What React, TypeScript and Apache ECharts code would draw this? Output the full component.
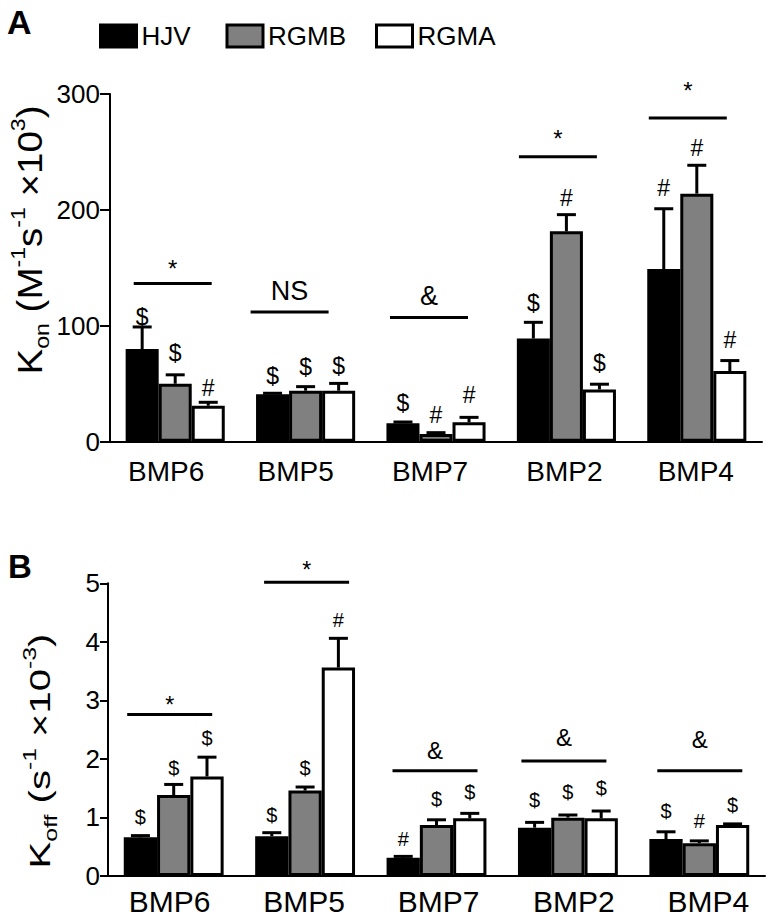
import React, { useEffect, useRef } from 'react';
import * as echarts from 'echarts';

// ---------- data ----------
const categories = ['BMP6', 'BMP5', 'BMP7', 'BMP2', 'BMP4'];
const seriesNames = ['HJV', 'RGMB', 'RGMA'];

// Panel A: Kon (M^-1 s^-1 x10^3)
const konHJV = [80, 41, 16, 89, 149];
const konRGMB = [50, 44, 6.6, 181.5, 214];
const konRGMA = [31, 44, 16.7, 45, 61];
const konErrHJV = [19, 0.8, 1, 14, 52];
const konErrRGMB = [7.7, 3.5, 1.2, 14.4, 24.5];
const konErrRGMA = [3, 6.3, 4.3, 4.6, 9];
const konMarkHJV = ['$', '$', '$', '$', '#'];
const konMarkRGMB = ['$', '$', '#', '#', '#'];
const konMarkRGMA = ['#', '$', '#', '$', '#'];
const konMarkLevelHJV = [108, 56.8, 33.2, 119.6, 219];
const konMarkLevelRGMB = [76.4, 64.8, 23, 210.4, 253.6];
const konMarkLevelRGMA = [46, 65.4, 40.4, 67.8, 87.9];
const konSigLabels = ['*', 'NS', '&', '*', '*'];
const konSigLevel = [136.6, 111.8, 107.2, 245.8, 279.2];
const konSigLabelLevel = [154, 129.6, 125.3, 266.5, 307.4];
const konTicks = { min: 0, max: 300, interval: 100 };

// Panel B: Koff (s^-1 x10^-3)
const koffHJV = [0.66, 0.68, 0.31, 0.826, 0.63];
const koffRGMB = [1.384, 1.46, 0.87, 0.997, 0.56];
const koffRGMA = [1.7, 3.56, 0.985, 0.985, 0.87];
const koffErrHJV = [0.03, 0.06, 0.025, 0.09, 0.125];
const koffErrRGMB = [0.18, 0.06, 0.09, 0.045, 0.04];
const koffErrRGMA = [0.33, 0.5, 0.085, 0.125, 0.02];
const koffMarkHJV = ['$', '$', '#', '$', '$'];
const koffMarkRGMB = ['$', '$', '$', '$', '#'];
const koffMarkRGMA = ['$', '#', '$', '$', '$'];
const koffMarkLevelHJV = [1.01, 1.04, 0.63, 1.29, 1.11];
const koffMarkLevelRGMB = [1.84, 1.84, 1.31, 1.44, 0.945];
const koffMarkLevelRGMA = [2.35, 4.37, 1.43, 1.5, 1.21];
const koffSigLabels = ['*', '*', '&', '&', '&'];
const koffSigLevel = [2.76, 5.02, 1.8, 1.966, 1.8];
const koffSigLabelLevel = [3.01, 5.32, 2.14, 2.36, 2.34];
const koffTicks = { min: 0, max: 5, interval: 1 };

// ---------- style ----------
const FONT = 'Liberation Sans, Arial, sans-serif';
const COLORS = ['#000000', '#808080', '#ffffff'];
const CAT_GAP = 0.24;
const A_LABEL_DX = [-9, -10, -6, -2, -1];
const B_LABEL_DX = [-4, -1, 2, 6, 9];
const A_SIG_DX = [-2.5, -16, -7, -8.5, -9];
const B_SIG_DX = [-4, 1.5, -1.5, -4, 0.5];

function labelRich(dx: number[], fontSize: number) {
  const rich: any = {};
  dx.forEach((d, i) => {
    rich['l' + i] = {
      fontSize,
      fontFamily: FONT,
      color: '#000',
      padding: d >= 0 ? [0, 0, 0, 2 * d] : [0, -2 * d, 0, 0],
    };
  });
  return rich;
}

function errSeries(
  gi: number,
  member: number,
  means: number[],
  errs: number[],
  marks: string[],
  levels: number[],
  fs: number
) {
  return {
    type: 'custom',
    xAxisIndex: gi,
    yAxisIndex: gi,
    z: 5,
    silent: true,
    clip: false,
    data: means.map((v, i) => [i, v, v + errs[i], levels[i]]),
    renderItem: (params: any, api: any) => {
      const i = api.value(0);
      const band = api.size([1, 0])[0];
      const bw = (band * (1 - CAT_GAP)) / 3;
      const cx = api.coord([i, 0])[0] + (member - 1) * bw;
      const yTop = api.coord([i, api.value(1)])[1];
      const yErr = api.coord([i, api.value(2)])[1];
      const yMark = api.coord([i, api.value(3)])[1];
      const capHalf = 9.5;
      return {
        type: 'group',
        children: [
          {
            type: 'line',
            shape: { x1: cx, y1: yTop, x2: cx, y2: yErr },
            style: { stroke: '#000', lineWidth: 3 },
          },
          {
            type: 'line',
            shape: { x1: cx - capHalf, y1: yErr, x2: cx + capHalf, y2: yErr },
            style: { stroke: '#000', lineWidth: 3 },
          },
          {
            type: 'text',
            x: cx,
            y: yMark,
            style: {
              text: marks[i],
              align: 'center',
              verticalAlign: 'middle',
              fontSize: fs,
              fontFamily: FONT,
              fill: '#000',
            },
          },
        ],
      };
    },
  };
}

function sigSeries(
  gi: number,
  labels: string[],
  levels: number[],
  labelLevels: number[],
  dxs: number[],
  halfW: number,
  fsStar: number,
  fsText: number
) {
  return {
    type: 'custom',
    xAxisIndex: gi,
    yAxisIndex: gi,
    z: 5,
    silent: true,
    clip: false,
    data: levels.map((v, i) => [i, v, labelLevels[i]]),
    renderItem: (params: any, api: any) => {
      const i = api.value(0);
      const cx = api.coord([i, 0])[0] + dxs[i];
      const y = api.coord([i, api.value(1)])[1];
      let yt = api.coord([i, api.value(2)])[1];
      const lab = labels[i];
      const fs = lab === '*' ? fsStar : fsText;
      if (lab === '*') yt += fs * 0.22;
      return {
        type: 'group',
        children: [
          {
            type: 'line',
            shape: { x1: cx - halfW, y1: y, x2: cx + halfW, y2: y },
            style: { stroke: '#000', lineWidth: 3 },
          },
          {
            type: 'text',
            x: cx,
            y: yt,
            style: {
              text: lab,
              align: 'center',
              verticalAlign: 'middle',
              fontSize: fs,
              fontFamily: FONT,
              fill: '#000',
            },
          },
        ],
      };
    },
  };
}

function barSeries(gi: number, member: number, data: number[]) {
  return {
    type: 'bar',
    name: seriesNames[member],
    xAxisIndex: gi,
    yAxisIndex: gi,
    data,
    barGap: '0%',
    barCategoryGap: CAT_GAP * 100 + '%',
    silent: true,
    itemStyle: { color: COLORS[member], borderColor: '#000', borderWidth: 3 },
    emphasis: { disabled: true },
  };
}

export default function App() {
  const ref = useRef<HTMLDivElement>(null);
  useEffect(() => {
    if (!ref.current) return;
    const chart = echarts.init(ref.current, undefined, { renderer: 'svg' });

    const xAxisCommon = (fs: number, margin: number, dx: number[]) => ({
      type: 'category',
      data: categories,
      axisTick: { show: false },
      axisLine: { lineStyle: { color: '#000', width: 2 } },
      axisLabel: {
        interval: 0,
        margin,
        fontSize: fs,
        fontFamily: FONT,
        color: '#000',
        formatter: (v: string, idx: number) => `{l${idx}|${v}}`,
        rich: labelRich(dx, fs),
      },
      splitLine: { show: false },
    });
    const yAxisCommon = (t: any, tickLen: number, margin: number) => ({
      type: 'value',
      min: t.min,
      max: t.max,
      interval: t.interval,
      axisLine: { show: true, lineStyle: { color: '#000', width: 2 } },
      axisTick: { show: true, length: tickLen, lineStyle: { color: '#000', width: 2 } },
      axisLabel: { fontSize: 26, fontFamily: FONT, color: '#000', margin },
      splitLine: { show: false },
    });

    const legendXs = [99, 225.5, 375];
    const legends = seriesNames.map((n, k) => ({
      data: [n],
      left: legendXs[k],
      top: 23,
      padding: 0,
      itemGap: 0,
      itemWidth: 36,
      itemHeight: 22,
      icon: 'rect',
      selectedMode: false,
      itemStyle: { borderWidth: 3, borderColor: '#000' },
      textStyle: { fontSize: 26, fontFamily: FONT, color: '#000', lineHeight: 24 },
    }));

    const richTitle = (main: number, small: number) => ({
      m: { fontSize: main, fontFamily: FONT, fill: '#000', lineHeight: main + 10, verticalAlign: 'middle' },
      sup: { fontSize: small, fontFamily: FONT, fill: '#000', lineHeight: small + 2, verticalAlign: 'top' },
      sub: { fontSize: small, fontFamily: FONT, fill: '#000', lineHeight: small + 7, verticalAlign: 'bottom' },
    });

    const option: any = {
      animation: false,
      backgroundColor: '#fff',
      textStyle: { fontFamily: FONT },
      legend: legends,
      grid: [
        { left: 110, right: 10, top: 94, bottom: 479.3 },
        { left: 108, right: 7, top: 583.3, bottom: 45 },
      ],
      xAxis: [
        { ...xAxisCommon(28, 16, A_LABEL_DX), gridIndex: 0 },
        { ...xAxisCommon(30, 10, B_LABEL_DX), gridIndex: 1 },
      ],
      yAxis: [
        { ...yAxisCommon(konTicks, 10, 10), gridIndex: 0 },
        { ...yAxisCommon(koffTicks, 8, 8), gridIndex: 1 },
      ],
      graphic: [
        {
          type: 'text',
          x: 7,
          y: 22,
          style: { text: 'A', fontSize: 34, fontWeight: 'bold', fontFamily: FONT, fill: '#000', align: 'left', verticalAlign: 'middle' },
        },
        {
          type: 'text',
          x: 8,
          y: 566,
          style: { text: 'B', fontSize: 33, fontWeight: 'bold', fontFamily: FONT, fill: '#000', align: 'left', verticalAlign: 'middle' },
        },
        {
          type: 'text',
          x: 30,
          y: 240,
          rotation: Math.PI / 2,
          scaleX: 1.1,
          style: {
            text: '{m|K}{sub|on}{m| (M}{sup|-1}{m|s}{sup|-1}{m| ×10}{sup|3}{m|)}',
            rich: richTitle(35, 21),
            align: 'center',
            verticalAlign: 'middle',
            fill: '#000',
          },
        },
        {
          type: 'text',
          x: 40,
          y: 751,
          rotation: Math.PI / 2,
          scaleX: 1.38,
          style: {
            text: '{m|K}{sub|off}{m| (s}{sup|-1}{m| ×10}{sup|-3}{m|)}',
            rich: richTitle(29, 18),
            align: 'center',
            verticalAlign: 'middle',
            fill: '#000',
          },
        },
      ],
      series: [
        barSeries(0, 0, konHJV),
        barSeries(0, 1, konRGMB),
        barSeries(0, 2, konRGMA),
        errSeries(0, 0, konHJV, konErrHJV, konMarkHJV, konMarkLevelHJV, 23),
        errSeries(0, 1, konRGMB, konErrRGMB, konMarkRGMB, konMarkLevelRGMB, 23),
        errSeries(0, 2, konRGMA, konErrRGMA, konMarkRGMA, konMarkLevelRGMA, 23),
        sigSeries(0, konSigLabels, konSigLevel, konSigLabelLevel, A_SIG_DX, 39, 24, 27),
        barSeries(1, 0, koffHJV),
        barSeries(1, 1, koffRGMB),
        barSeries(1, 2, koffRGMA),
        errSeries(1, 0, koffHJV, koffErrHJV, koffMarkHJV, koffMarkLevelHJV, 20),
        errSeries(1, 1, koffRGMB, koffErrRGMB, koffMarkRGMB, koffMarkLevelRGMB, 20),
        errSeries(1, 2, koffRGMA, koffErrRGMA, koffMarkRGMA, koffMarkLevelRGMA, 20),
        sigSeries(1, koffSigLabels, koffSigLevel, koffSigLabelLevel, B_SIG_DX, 42.5, 23, 24),
      ],
    };
    chart.setOption(option);
    return () => chart.dispose();
  }, []);
  return (
    <div
      ref={ref}
      style={{ position: 'absolute', left: 0, top: 0, width: 772, height: 921 }}
    />
  );
}
